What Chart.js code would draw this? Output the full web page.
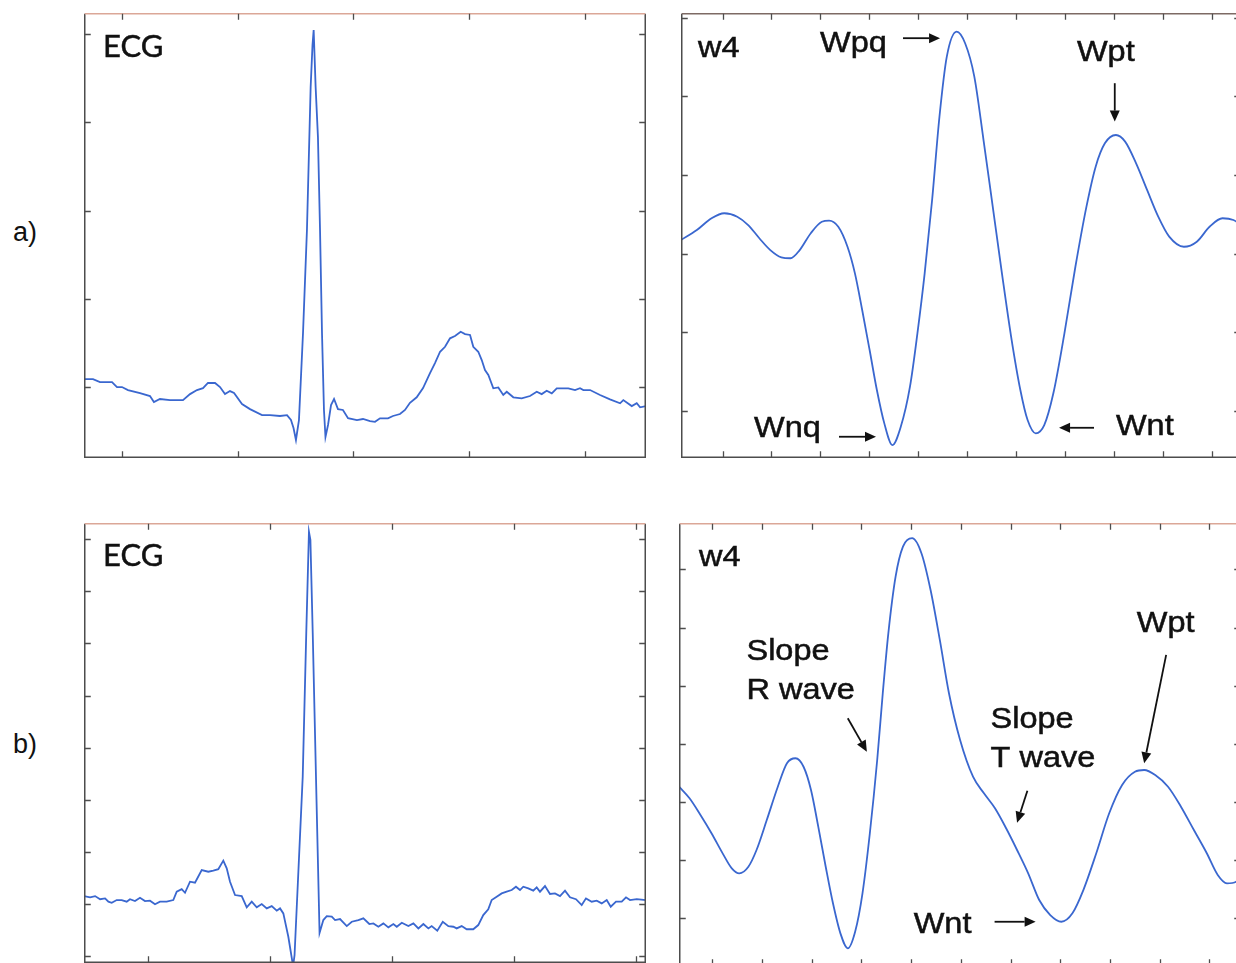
<!DOCTYPE html>
<html>
<head>
<meta charset="utf-8">
<title>ECG and w4 wavelet scale</title>
<script src="https://cdn.jsdelivr.net/npm/chart.js@4.4.1/dist/chart.umd.min.js"></script>
<style>
  html, body { margin: 0; padding: 0; background: #fff; overflow: hidden; }
  #page { position: relative; width: 1236px; height: 963px; overflow: hidden; }
  #page canvas { position: absolute; }
  .row { position: absolute; left: 13px; font: 27px 'Liberation Sans', Arial, sans-serif; line-height: 27px; color: #111; }
</style>
</head>
<body>
<div id="page">
  <div class="row" style="top:219px">a)</div>
  <div class="row" style="top:731px">b)</div>
  <canvas id="ecgA" width="562" height="445" style="left:84px;top:13px"></canvas>
  <canvas id="w4A" width="560" height="445" style="left:681px;top:13px"></canvas>
  <canvas id="ecgB" width="562" height="440" style="left:84px;top:523px"></canvas>
  <canvas id="w4B" width="562" height="443" style="left:679px;top:523px"></canvas>
</div>
<script>
// ---- beat a): ECG (sample, mV)
const ecgA_t = [67, 75, 81, 91.4, 95.7, 100, 105.2, 115.6, 124.2, 127.6, 132.8, 141.5, 152.7, 158.8, 164.8, 170, 174.3, 180.4, 184.7, 189,
  193.3, 196.8, 203.7, 210.6, 221, 227.9, 236.5, 242.6, 246, 248.2, 250.3, 252.9, 256.4, 259.8, 263, 264.6, 265.6, 267.3, 269.3, 271.1,
  272.8, 274.5, 275.8, 278, 280.6, 283.2, 286.6, 290.9, 295.3, 303, 308.2, 314.3, 318.6, 322.9, 329.8, 334.1, 340.2, 344.5, 348.8, 354.6,
  360.1, 366.1, 370.4, 374.8, 379.1, 383.4, 387.7, 392.6, 396.4, 400.7, 403.5, 407.8, 410.8, 413.6, 416.5, 420.8, 425.1, 429.4, 432.4, 438.1,
  445.3, 452.5, 458.3, 462.6, 466.9, 471.3, 475.6, 485.6, 491.4, 495.7, 498.6, 504.4, 513, 521.6, 530.3, 533.1, 540.4, 544.7, 547.6, 552.7];
const ecgA_mv = [0.045, 0.045, 0.028, 0.028, 0, 0, -0.017, -0.034, -0.051, -0.085, -0.068, -0.074, -0.074, -0.04, -0.017, -0.006, 0.023, 0.023, 0, -0.04,
  -0.023, -0.034, -0.096, -0.125, -0.159, -0.159, -0.164, -0.159, -0.187, -0.232, -0.3, -0.187, 0.306, 0.89, 1.7, 1.938, 2.023, 1.7, 1.416, 0.89,
  0.306, -0.13, -0.283, -0.215, -0.102, -0.068, -0.125, -0.13, -0.176, -0.187, -0.181, -0.193, -0.197, -0.177, -0.177, -0.164, -0.153, -0.13, -0.089, -0.058,
  -0.006, 0.079, 0.136, 0.2, 0.228, 0.276, 0.289, 0.313, 0.3, 0.295, 0.228, 0.2, 0.153, 0.096, 0.068, -0.007, -0.002, -0.045, -0.027, -0.058,
  -0.064, -0.051, -0.027, -0.04, -0.021, -0.036, -0.007, -0.007, -0.017, -0.007, -0.017, -0.017, -0.045, -0.07, -0.092, -0.074, -0.108, -0.092, -0.115, -0.108];

// ---- beat a): wavelet scale 4
const w4A_t = [7.6, 23.8, 38.8, 51.8, 65, 76.2, 87.6, 98.8, 110, 119.4, 128.8, 140.1, 151.4, 158.8, 168.2, 177.6, 185.2, 192.6, 200.2, 207.6,
  215.2, 223.5, 232, 241.4, 249, 256.4, 264, 271.5, 279, 289.1, 297.7, 307.1, 316.5, 325.9, 335.3, 344.7, 354.1, 361.5, 369.8, 378.5,
  387.8, 399.1, 410.3, 421.6, 431, 440.4, 451.7, 461.1, 472.3, 483.5, 494.9, 506.1, 521.1, 534.3, 547.3, 560.5, 571.7, 579.4];
const w4A_val = [-41.3, -35, -27.5, -24.3, -26.5, -31.8, -40.2, -47.7, -52.3, -52.9, -47.7, -37, -29.7, -29, -32.9, -45.6, -62.5, -85.8, -111.2, -136.6,
  -157.8, -171.6, -160, -134.5, -100.6, -62.5, -15.9, 37, 75.2, 91.1, 83.7, 62.5, 22.2, -20.1, -62.5, -102.8, -136.6, -155.7, -164.1, -158.9,
  -138.7, -100.6, -58.3, -20.1, 5.3, 20.1, 25.4, 21.2, 7.4, -9.5, -26.5, -39.2, -45.6, -42.4, -32.9, -27.5, -28.6, -31.8];

// ---- beat b): ECG (sample, mV)
const ecgB_t = [47.5, 52.5, 56.6, 60.7, 64.8, 67.5, 70.2, 74.3, 78.4, 82.5, 85.2, 89.3, 93.4, 97.5, 101.6, 105.7, 109.8, 115.3, 120.7, 123.5,
  127.6, 130.3, 134.4, 138.5, 144, 149.4, 153.5, 157.6, 161.7, 164.5, 167.2, 171.3, 176.8, 180.9, 185, 189.1, 193.2, 197.3, 201.4, 205.5,
  208.2, 210.9, 215, 218.9, 220.1, 226.8, 229.7, 231.9, 233.1, 235, 238.1, 240.6, 243.7, 246.5, 250.6, 253.3, 257.4, 262.9, 267, 272.4,
  276.5, 281.4, 284.7, 288.8, 292.9, 297, 301.1, 303.9, 308, 313.4, 317.5, 321.6, 325.7, 329.8, 332.5, 337.1, 341.6, 346.2, 350.3, 353,
  357.1, 361.2, 366.6, 370.7, 374.8, 378.9, 381.7, 385.8, 389.9, 394, 398.1, 401.6, 404.9, 407.6, 411.7, 415.8, 418.6, 421.3, 425.4, 429.5,
  433.6, 437.7, 441.8, 445.9, 450.8, 455.5, 459, 463.7, 467.8, 471.9, 476, 479.3, 483.6, 488.3, 491.8, 495.1, 500.6, 508.2];
const ecgB_mv = [0.038, 0.032, 0.038, 0.023, 0.027, 0.011, 0.006, 0.019, 0.019, 0.011, 0.023, 0.014, 0.03, 0.014, 0.016, -0.001, 0.011, 0.011, 0.019, 0.059,
  0.071, 0.054, 0.107, 0.102, 0.163, 0.155, 0.16, 0.167, 0.208, 0.171, 0.107, 0.043, 0.038, -0.016, 0.011, -0.016, 0, -0.021, -0.01, -0.032,
  -0.021, -0.045, -0.157, -0.298, -0.245, 0.611, 1.3, 1.786, 1.747, 1.3, 0.499, -0.139, -0.077, -0.058, -0.061, -0.077, -0.072, -0.106, -0.085, -0.077,
  -0.069, -0.096, -0.093, -0.109, -0.093, -0.112, -0.096, -0.109, -0.09, -0.106, -0.093, -0.117, -0.096, -0.117, -0.106, -0.128, -0.085, -0.106, -0.109, -0.117,
  -0.106, -0.121, -0.121, -0.101, -0.053, -0.025, 0.019, 0.035, 0.051, 0.059, 0.067, 0.083, 0.067, 0.083, 0.075, 0.064, 0.08, 0.059, 0.086, 0.048,
  0.051, 0.038, 0.064, 0.032, 0.023, -0.005, 0.027, 0.011, 0.016, 0.003, 0.019, -0.013, 0.011, 0.011, 0.032, 0.019, 0.023, 0.019];

// ---- beat b): wavelet scale 4
const w4B_t = [16.4, 27, 38, 49.1, 60.3, 69.5, 77, 86.2, 94.4, 104.7, 115.8, 125, 133.6, 141.7, 149.2, 156.5, 164, 171.3, 178.8, 186.2,
  193.6, 201, 208.4, 215.8, 221.4, 227, 234.3, 241.7, 251, 260.3, 269.5, 278.8, 288, 299.2, 312.2, 323.2, 334.3, 345.5, 356.5, 367.7,
  378.8, 389.9, 401, 412.2, 423.2, 436.2, 449.2, 462.2, 475.1, 484.4, 495.5, 508.4, 521.4, 534.4, 547.4, 558.4, 567.7, 576.9, 581.8];
const w4B_val = [12.9, 2.9, -11.5, -27.2, -44.5, -57.4, -61.7, -56, -41.6, -15.8, 12.9, 33.1, 37.4, 30.1, 10.1, -21.5, -56, -87.5, -113.4, -126.3,
  -112, -78.9, -27.2, 35.9, 93.4, 145, 193.8, 219.6, 226.9, 214, 182.3, 139.3, 93.4, 53.1, 21.5, 7.2, -5.7, -22.9, -41.6, -61.7,
  -84.7, -97.6, -103.4, -96.1, -76.1, -44.4, -10, 14.4, 25.8, 27.3, 23, 12.9, -4.3, -24.4, -44.4, -63.1, -70.3, -68.9, -64.9];

// tick positions of each frame
const ecgA_xTicks = [100, 200, 300, 400, 500];
const ecgA_yTicks = [0, 0.5, 1, 1.5, 2];
const w4A_xTicks = [50, 100, 150, 200, 250, 300, 350, 400, 450, 500, 550];
const w4A_yTicks = [100, 50, 0, -50, -100, -150];
const ecgB_xTicks = [100, 200, 300, 400, 500];
const ecgB_yTicks = [-0.25, 0, 0.25, 0.5, 0.75, 1, 1.25, 1.5, 1.75];
const w4B_xTicks = [50, 100, 150, 200, 250, 300, 350, 400, 450, 500, 550];
const w4B_yTicks = [-100, -50, 0, 50, 100, 150, 200];

// labels and arrows, placed in each panel's data units
const ARIAL = "29px 'Liberation Sans', Arial, sans-serif";
const ECGFONT = "31px Lato, 'Open Sans', sans-serif";
const ecgA_notes = [{ text: 'ECG', x: 83.6, y: 1.87, font: ECGFONT, sx: 1 }];
const w4A_notes = [
  { text: 'w4', x: 25, y: 75 }, { text: 'Wpq', x: 149.5, y: 78.2 }, { text: 'Wpt', x: 411.9, y: 72.4 },
  { text: 'Wnq', x: 82.2, y: -166.5 }, { text: 'Wnt', x: 451.7, y: -165.2 }
];
const w4A_arrows = [
  { from: [234.3, 86.9], to: [272.1, 86.9] }, { from: [450.5, 58.3], to: [450.5, 33.9] },
  { from: [168.9, -166.3], to: [206.7, -166.3] }, { from: [429.3, -160.6], to: [393.6, -160.6] }
];
const ecgB_notes = [{ text: 'ECG', x: 63.1, y: 1.622, font: ECGFONT, sx: 1 }];
const w4B_notes = [
  { text: 'w4', x: 36.5, y: 203 }, { text: 'Slope', x: 84.3, y: 122 }, { text: 'R wave', x: 84.3, y: 88.2 },
  { text: 'Slope', x: 329.9, y: 63.2 }, { text: 'T wave', x: 329.9, y: 30.1 }, { text: 'Wpt', x: 476.9, y: 146.4 },
  { text: 'Wnt', x: 252.5, y: -113.4 }
];
const w4B_arrows = [
  { from: [186.2, 71.8], to: [205.4, 43.1] }, { from: [366.9, 9.5], to: [356.5, -18.1] },
  { from: [506.5, 126.4], to: [484.4, 33.1] }, { from: [333.9, -103.4], to: [375.2, -103.4] }
];

const LINE = '#3a67cf';
const AXIS = '#4d4d4d';

// box with inward tick marks on all four sides
function framePlugin(xTicks, yTicks, topColor) {
  return {
    id: 'frame',
    afterDatasetsDraw(chart) {
      const { ctx, chartArea: a, scales: { x, y } } = chart;
      const L = a.left + 0.75, R = a.right - 0.75, T = a.top + 0.75, B = a.bottom - 0.75;
      ctx.save();
      ctx.lineWidth = 1.5;
      ctx.strokeStyle = AXIS;
      ctx.beginPath();
      ctx.moveTo(L, T); ctx.lineTo(L, B); ctx.lineTo(R, B); ctx.lineTo(R, T);
      ctx.stroke();
      ctx.strokeStyle = topColor;
      ctx.beginPath(); ctx.moveTo(L, T); ctx.lineTo(R, T); ctx.stroke();
      ctx.strokeStyle = AXIS;
      ctx.lineWidth = 1.3;
      ctx.beginPath();
      xTicks.forEach(v => {
        const px = Math.round(x.getPixelForValue(v)) + 0.5;
        ctx.moveTo(px, B); ctx.lineTo(px, B - 6);
        ctx.moveTo(px, T); ctx.lineTo(px, T + 6);
      });
      yTicks.forEach(v => {
        const py = Math.round(y.getPixelForValue(v)) + 0.5;
        ctx.moveTo(L, py); ctx.lineTo(L + 6, py);
        ctx.moveTo(R, py); ctx.lineTo(R - 6, py);
      });
      ctx.stroke();
      ctx.restore();
    }
  };
}

function drawArrow(ctx, x1, y1, x2, y2) {
  const ang = Math.atan2(y2 - y1, x2 - x1), hl = 11, hw = 5;
  const bx = x2 - hl * Math.cos(ang), by = y2 - hl * Math.sin(ang);
  ctx.beginPath(); ctx.moveTo(x1, y1); ctx.lineTo(bx, by); ctx.stroke();
  ctx.beginPath();
  ctx.moveTo(x2, y2);
  ctx.lineTo(bx + hw * Math.sin(ang), by - hw * Math.cos(ang));
  ctx.lineTo(bx - hw * Math.sin(ang), by + hw * Math.cos(ang));
  ctx.closePath();
  ctx.fill();
}

function notesPlugin(notes, arrows) {
  return {
    id: 'notes',
    afterDraw(chart) {
      const { ctx, scales: { x, y } } = chart;
      ctx.save();
      ctx.fillStyle = '#111';
      ctx.strokeStyle = '#111';
      ctx.lineWidth = 1.8;
      ctx.textBaseline = 'alphabetic';
      notes.forEach(n => {
        ctx.save();
        ctx.font = n.font || ARIAL;
        ctx.translate(x.getPixelForValue(n.x), y.getPixelForValue(n.y));
        ctx.scale(n.sx || 1.12, 1);
        ctx.fillText(n.text, 0, 0);
        // a hairline outline gives the heavier look of the printed labels
        ctx.lineWidth = 0.5;
        ctx.strokeText(n.text, 0, 0);
        ctx.restore();
      });
      (arrows || []).forEach(a => {
        drawArrow(ctx, x.getPixelForValue(a.from[0]), y.getPixelForValue(a.from[1]),
          x.getPixelForValue(a.to[0]), y.getPixelForValue(a.to[1]));
      });
      ctx.restore();
    }
  };
}

function panel(id, t, v, cfg) {
  const pts = t.map((s, i) => ({ x: s, y: v[i] }));
  return new Chart(document.getElementById(id), {
    type: 'line',
    data: {
      datasets: [{
        data: pts,
        borderColor: LINE,
        borderWidth: 1.8,
        pointRadius: 0,
        fill: false,
        tension: 0,
        cubicInterpolationMode: cfg.smooth ? 'monotone' : 'default'
      }]
    },
    options: {
      responsive: false,
      animation: false,
      events: [],
      layout: { padding: 0, autoPadding: false },
      plugins: { legend: { display: false }, tooltip: { enabled: false } },
      scales: {
        x: { type: 'linear', display: false, min: cfg.x[0], max: cfg.x[1] },
        y: { type: 'linear', display: false, min: cfg.y[0], max: cfg.y[1] }
      }
    },
    plugins: [framePlugin(cfg.xTicks, cfg.yTicks, cfg.top), notesPlugin(cfg.notes, cfg.arrows)]
  });
}

panel('ecgA', ecgA_t, ecgA_mv, { x: [67.2, 552.7], y: [-0.402, 2.119], xTicks: ecgA_xTicks, yTicks: ecgA_yTicks, top: '#dba797', notes: ecgA_notes });
panel('w4A', w4A_t, w4A_val, { smooth: true, x: [7.6, 579.4], y: [-179.8, 102.9], xTicks: w4A_xTicks, yTicks: w4A_yTicks, top: '#7d6a64', notes: w4A_notes, arrows: w4A_arrows });
panel('ecgB', ecgB_t, ecgB_mv, { x: [47.5, 508.2], y: [-0.283, 1.828], xTicks: ecgB_xTicks, yTicks: ecgB_yTicks, top: '#dba797', notes: ecgB_notes });
panel('w4B', w4B_t, w4B_val, { smooth: true, x: [16.4, 581.8], y: [-141.5, 240], xTicks: w4B_xTicks, yTicks: w4B_yTicks, top: '#dba797', notes: w4B_notes, arrows: w4B_arrows });
</script>
</body>
</html>
